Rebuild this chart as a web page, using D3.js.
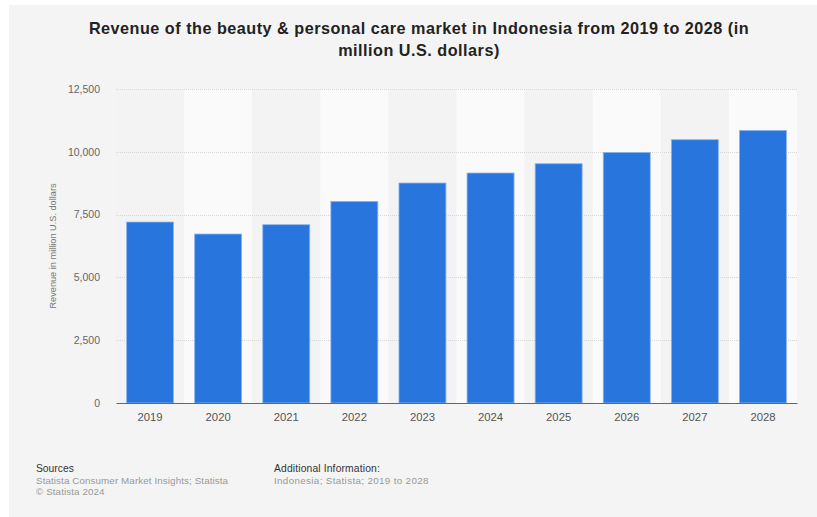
<!DOCTYPE html>
<html>
<head>
<meta charset="utf-8">
<script src="https://cdn.jsdelivr.net/npm/d3@7"></script>
<style>
  html, body { margin: 0; padding: 0; background: #ffffff; }
  svg { display: block; }
  text { font-family: "Liberation Sans", Arial, Helvetica, sans-serif; }
</style>
</head>
<body>
<svg id="chart" width="817" height="517"></svg>
<script>
const categories = ["2019", "2020", "2021", "2022", "2023", "2024", "2025", "2026", "2027", "2028"];
const revenue = [7205, 6727, 7098, 8026, 8758, 9156, 9526, 9976, 10482, 10853];
const yTicks = [0, 2500, 5000, 7500, 10000, 12500];
const titleLines = ["Revenue of the beauty & personal care market in Indonesia from 2019 to 2028 (in", "million U.S. dollars)"];
const yLabel = "Revenue in million U.S. dollars";

const svg = d3.select("#chart");
const W = 817, H = 517;

// card background
svg.append("rect").attr("x", 9).attr("y", 5).attr("width", W - 9).attr("height", H - 5).attr("fill", "#f4f4f4");

// title
svg.append("g").selectAll("text").data(titleLines).join("text")
  .attr("x", 419).attr("y", (d, i) => 34 + i * 21.5)
  .attr("text-anchor", "middle")
  .attr("font-size", 16.2).attr("font-weight", "bold").attr("fill", "#222")
  .attr("letter-spacing", 0.5)
  .text(d => d);

const margin = { left: 116, right: 797, top: 89, bottom: 403 };
const x = d3.scaleBand().domain(categories).range([margin.left, margin.right]).paddingInner(0.31).paddingOuter(0.155);
const xStripe = d3.scaleBand().domain(categories).range([margin.left, margin.right]).padding(0);
const y = d3.scaleLinear().domain([0, 12500]).range([margin.bottom, margin.top]);

// stripes
svg.append("g").selectAll("rect").data(categories).join("rect")
  .attr("x", d => xStripe(d)).attr("width", xStripe.bandwidth())
  .attr("y", y(12500)).attr("height", y(0) - y(12500))
  .attr("fill", (d, i) => i % 2 === 1 ? "#fafafa" : "#f3f3f3");

// gridlines
svg.append("g").selectAll("line").data(yTicks.filter(t => t > 0)).join("line")
  .attr("x1", margin.left).attr("x2", margin.right)
  .attr("y1", d => Math.round(y(d)) + 0.5).attr("y2", d => Math.round(y(d)) + 0.5)
  .attr("stroke", "#d8d8d8").attr("stroke-width", 1).attr("stroke-dasharray", "1,1");

// y axis
const yAxis = svg.append("g").attr("transform", `translate(${margin.left - 16},0)`)
  .call(d3.axisLeft(y).tickValues(yTicks).tickSize(0).tickPadding(0).tickFormat(d3.format(",")));
yAxis.select(".domain").remove();
yAxis.selectAll("text").attr("font-size", 10.5).attr("fill", "#666").attr("font-family", "'Liberation Sans', Arial, sans-serif");

// y label
svg.append("text")
  .attr("transform", `translate(56,${(margin.top + margin.bottom) / 2}) rotate(-90)`)
  .attr("text-anchor", "middle").attr("font-size", 9.2).attr("fill", "#777")
  .text(yLabel);

// bars
svg.append("g").selectAll("rect").data(revenue).join("rect")
  .attr("x", (d, i) => x(categories[i])).attr("width", x.bandwidth())
  .attr("y", d => y(d)).attr("height", d => y(0) - y(d))
  .attr("fill", "#2876dd").attr("stroke", "#8fb6ec").attr("stroke-width", 0.8);

// x axis
const xAxis = svg.append("g").attr("transform", `translate(0,${margin.bottom})`)
  .call(d3.axisBottom(x).tickSize(0).tickPadding(10));
xAxis.select(".domain").attr("stroke", "#666").attr("stroke-width", 1.2);
xAxis.selectAll("text").attr("font-size", 11.3).attr("fill", "#555").attr("font-family", "'Liberation Sans', Arial, sans-serif");

// footer
const foot = svg.append("g");
foot.append("text").attr("x", 36).attr("y", 472).attr("font-size", 10.3).attr("fill", "#333").text("Sources");
foot.append("text").attr("x", 36).attr("y", 484).attr("font-size", 9.8).attr("fill", "#999").attr("letter-spacing", 0.1).text("Statista Consumer Market Insights; Statista");
foot.append("text").attr("x", 36).attr("y", 495).attr("font-size", 9.8).attr("fill", "#999").attr("letter-spacing", 0.1).text("© Statista 2024");
foot.append("text").attr("x", 274).attr("y", 472).attr("font-size", 10.3).attr("fill", "#333").attr("letter-spacing", 0.15).text("Additional Information:");
foot.append("text").attr("x", 274).attr("y", 484).attr("font-size", 9.8).attr("fill", "#999").attr("letter-spacing", 0.35).text("Indonesia; Statista; 2019 to 2028");
</script>
</body>
</html>
